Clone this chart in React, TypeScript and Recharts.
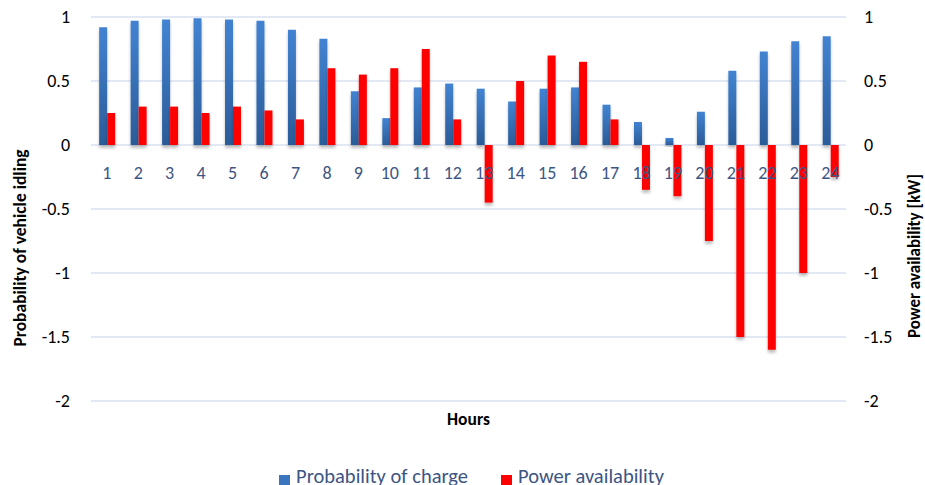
import {
  BarChart, Bar, XAxis, YAxis, CartesianGrid,
} from 'recharts'

const hours = ['1', '2', '3', '4', '5', '6', '7', '8', '9', '10', '11', '12',
  '13', '14', '15', '16', '17', '18', '19', '20', '21', '22', '23', '24']

const probabilityOfCharge = [0.92, 0.97, 0.98, 0.99, 0.98, 0.97, 0.9, 0.83, 0.42, 0.21, 0.45, 0.48,
  0.44, 0.34, 0.44, 0.45, 0.315, 0.18, 0.055, 0.26, 0.58, 0.73, 0.81, 0.85]

const powerAvailability = [0.25, 0.3, 0.3, 0.25, 0.3, 0.27, 0.2, 0.6, 0.55, 0.6, 0.75, 0.2,
  -0.45, 0.5, 0.7, 0.65, 0.2, -0.35, -0.4, -0.75, -1.5, -1.6, -1.0, -0.25]

const yTicks = [-2, -1.5, -1, -0.5, 0, 0.5, 1]

const seriesNames = ['Probability of charge', 'Power availability']

const data = hours.map((h, i) => ({
  hour: h,
  prob: probabilityOfCharge[i],
  power: powerAvailability[i],
}))

const FONT = 'Carlito, Lato, sans-serif'
const BLUE = '#3A75BE'
const RED = '#FF0000'

function LeftTitle({ viewBox }: any) {
  const x = viewBox.x + 26
  const y = viewBox.y + viewBox.height / 2 + 39
  return (
    <text x={x} y={y} transform={`rotate(-90, ${x}, ${y})`} textAnchor="middle"
      fontFamily={FONT} fontWeight={700} fontSize={17.5} fill="#000">
      Probability of vehicle idling
    </text>
  )
}

function RightTitle({ viewBox }: any) {
  const x = viewBox.x + 74
  const y = viewBox.y + viewBox.height / 2 + 47
  return (
    <text x={x} y={y} transform={`rotate(-90, ${x}, ${y})`} textAnchor="middle"
      fontFamily={FONT} fontWeight={700} fontSize={17} fill="#000">
      Power availability [kW]
    </text>
  )
}

export default function App() {
  return (
    <div style={{ position: 'relative', width: 925, height: 485, overflow: 'hidden', background: '#fff' }}>
      <style>{'body{margin:0}'}</style>
      <BarChart
        width={925}
        height={485}
        data={data}
        margin={{ top: 17, right: 0, bottom: 44, left: 0 }}
        barCategoryGap="26%"
        barGap={0}
      >
        <defs>
          <linearGradient id="blueGrad" x1="0" y1="0" x2="0" y2="1">
            <stop offset="0%" stopColor="#4283D2" />
            <stop offset="100%" stopColor="#2B5B98" />
          </linearGradient>
          <filter id="barShadow" x="-50%" y="-10%" width="200%" height="130%">
            <feDropShadow dx="0" dy="3" stdDeviation="1.5" floodColor="#000" floodOpacity="0.25" />
          </filter>
        </defs>
        <CartesianGrid yAxisId="left" vertical={false} stroke="#D9E2F1" strokeWidth={1.3} />
        <XAxis
          dataKey="hour"
          interval={0}
          axisLine={false}
          tickLine={false}
          height={40}
          tick={{ fill: '#3D5583', fontSize: 18, fontFamily: FONT, dy: -243 }}
          label={{ value: 'Hours', position: 'insideTop', offset: 12, fill: '#000', fontSize: 17.5, fontWeight: 700, fontFamily: FONT }}
        />
        <YAxis
          yAxisId="left"
          domain={[-2, 1]}
          ticks={yTicks}
          width={91}
          axisLine={false}
          tickLine={false}
          tickMargin={15}
          tick={{ fill: '#000', fontSize: 18, fontFamily: FONT }}
          label={<LeftTitle />}
        />
        <YAxis
          yAxisId="right"
          orientation="right"
          domain={[-2, 1]}
          ticks={yTicks}
          width={79}
          axisLine={false}
          tickLine={false}
          tickMargin={12}
          tick={{ fill: '#000', fontSize: 18, fontFamily: FONT, textAnchor: 'start' }}
          label={<RightTitle />}
        />
        <Bar yAxisId="left" dataKey="prob" name={seriesNames[0]} fill="url(#blueGrad)"
          filter="url(#barShadow)" isAnimationActive={false} />
        <Bar yAxisId="right" dataKey="power" name={seriesNames[1]} fill={RED}
          filter="url(#barShadow)" isAnimationActive={false} />
      </BarChart>
      <div style={{
        position: 'absolute', top: 464, left: 0, width: 925, display: 'flex', justifyContent: 'center',
        fontFamily: FONT, fontSize: 20.5, color: '#3D5583', gap: 33, lineHeight: '24px',
        paddingLeft: 18, boxSizing: 'border-box',
      }}>
        {seriesNames.map((name, i) => (
          <div key={name} style={{ display: 'flex', alignItems: 'center', gap: 6 }}>
            <span style={{ display: 'inline-block', width: 11, height: 11, position: 'relative', top: 4, background: i === 0 ? BLUE : RED }} />
            <span>{name}</span>
          </div>
        ))}
      </div>
    </div>
  )
}
